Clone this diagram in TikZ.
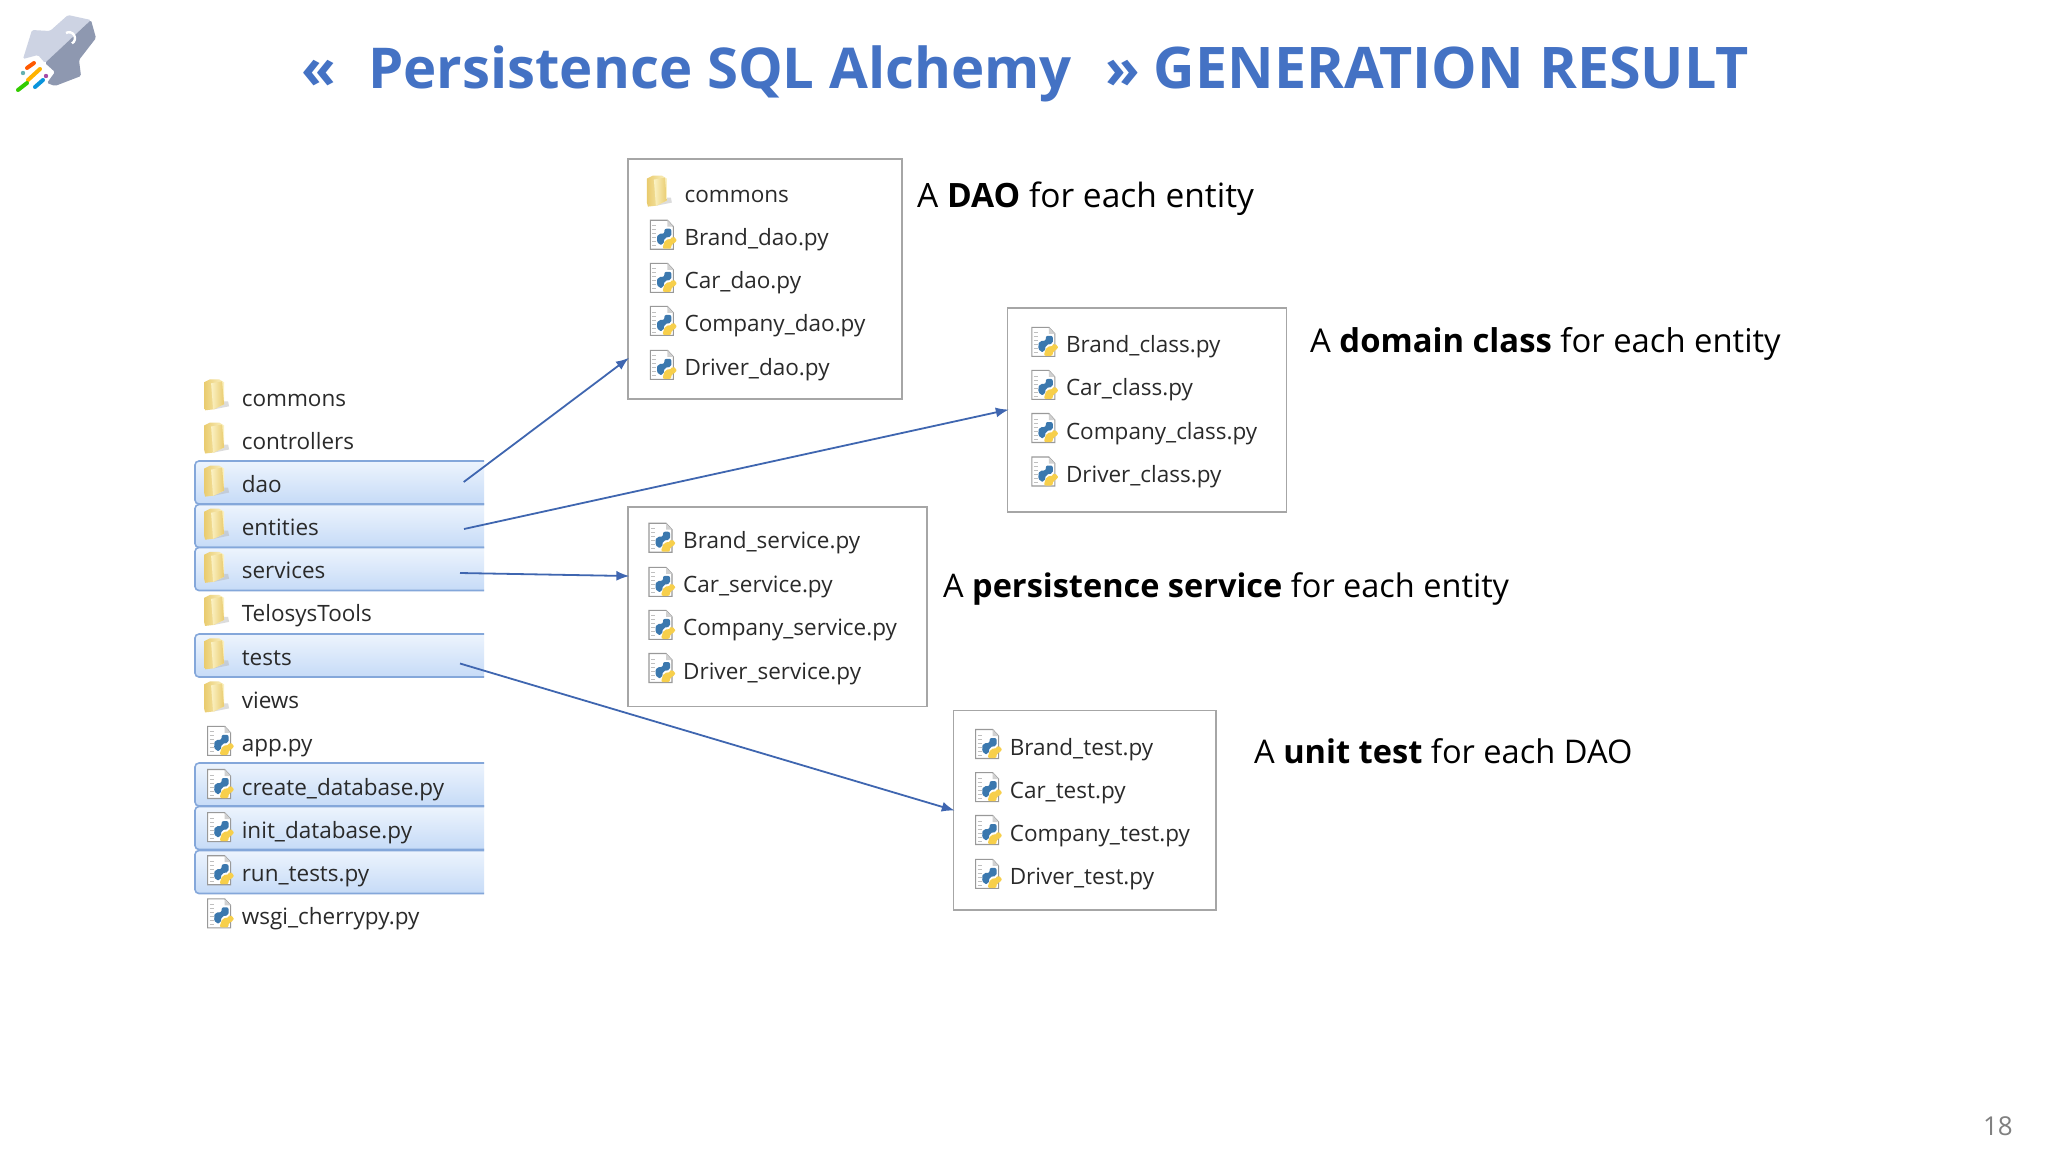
\documentclass[tikz,border=0pt]{standalone}
\usepackage{fontspec}
\setmainfont{Open Sans}
\usetikzlibrary{arrows.meta}
\definecolor{titleblue}{HTML}{4472C4}
\definecolor{rowtext}{HTML}{2A2A2A}
\definecolor{boxline}{HTML}{A6A6A6}
\definecolor{selline}{HTML}{84A7DA}
\definecolor{seltop}{HTML}{EDF4FD}
\definecolor{selbot}{HTML}{C6DBF7}
\definecolor{arrowblue}{HTML}{3F66B0}
\definecolor{foldA}{HTML}{F2D680}
\definecolor{foldB}{HTML}{FBF2C4}
\definecolor{foldC}{HTML}{E9CB6E}
\definecolor{pyblue}{HTML}{3B78AE}
\definecolor{pyyellow}{HTML}{F7CF4B}
\definecolor{logolight}{HTML}{CDD3E3}
\definecolor{logodark}{HTML}{8E98B0}
\tikzset{
  x=1pt,y=-1pt,
  rowlabel/.style={anchor=base west,inner sep=0pt,text=rowtext,font=\fontsize{22.5}{27}\selectfont},
  caption/.style={anchor=base west,inner sep=0pt,text=black},
  titletext/.style={anchor=base west,inner sep=0pt,text=titleblue},
  listbox/.style={draw=boxline,line width=1.3pt,fill=white,inner sep=0pt},
  arrowline/.style={draw=arrowblue,line width=1.8pt,shorten >=-2pt,-{Latex[length=13pt,width=10pt]}},
  folder/.pic={
    \fill[black!30,opacity=.45] (0,14) -- (15,11) -- (14,6) -- (4,6) -- cycle;
    \shade[left color=foldC,right color=foldB] (-10,-13) -- (-4,-16) -- (5,-16) -- (10,-13) -- (10,9) -- (0,14) -- (-9,15) -- (-10,11) -- cycle;
    \shade[left color=foldB,right color=foldC] (-3,-12) -- (8,-14) -- (10,9) -- (-1,14) -- cycle;
  },
  pyfile/.pic={
    \filldraw[fill=white,draw=black!40,line width=1.1pt] (-13,-14.5) -- (4,-14.5) -- (10,-8) -- (10,14.5) -- (-13,14.5) -- cycle;
    \fill[black!18] (4,-14.5) -- (10,-8) -- (4,-8) -- cycle;
    \foreach \yy in {-9,-5,-1,3,7,11}{\draw[black!25,line width=.8pt] (-11,\yy) -- (-7,\yy);}
    \fill[pyblue,rounded corners=2pt] (1,-6) -- (8,-6) -- (8,2) -- (1,3) -- (0,10) -- (-5,10) -- (-7,4) -- (-5,-1) -- (1,-1) -- cycle;
    \fill[pyyellow,rounded corners=2pt] (9,2) -- (13,3) -- (13,8) -- (8,9) -- (8,14) -- (-1,14) -- (0,10) -- (2,5) -- (9,4) -- cycle;
  },
}
\newcommand{\selrow}[1]{%
  \path[top color=seltop,bottom color=selbot,rounded corners=4pt] (484,#1-21.5) -- (195,#1-21.5) -- (195,#1+21.5) -- (484,#1+21.5);
  \draw[selline,line width=1.6pt,rounded corners=4pt] (484,#1-21.5) -- (195,#1-21.5) -- (195,#1+21.5) -- (484,#1+21.5);
}
\begin{document}
\begin{tikzpicture}
\useasboundingbox (0,0) rectangle (2048,1152);
\fill[white] (0,0) rectangle (2048,1152);
% logo
\fill[white] (38,55) -- (55,72) -- (46,84) -- (22,92) -- (16,78) -- cycle;
\fill[logolight,rounded corners=1.5pt] (23,59) -- (32,30) -- (50,31) -- (68,15) -- (91,20) -- (45,63) -- (38,55) -- cycle;
\fill[logodark,rounded corners=1.5pt] (91,20) -- (96,38) -- (79,60) -- (81,76) -- (55,86) -- (47,83) -- (55,72) -- (45,63) -- cycle;
\draw[white,line width=2.4pt] (66,33) arc[start angle=-120,end angle=60,radius=6];
\draw[orange!70!red,line width=4pt,line cap=round] (27,68) -- (34,63);
\draw[orange!60!yellow,line width=4pt,line cap=round] (28,80) -- (40,69);
\draw[cyan!80!blue,line width=4pt,line cap=round] (35,87) -- (43,80);
\draw[green!60!olive,line width=4pt,line cap=round] (18,90) -- (27,83);
\fill[teal!60] (23,73) circle[radius=2.2];
\fill[violet!70] (46,76) circle[radius=2.2];
% title
\node[titletext,font=\fontsize{56.3}{68}\selectfont\bfseries] (tq1) at (301,88) {«};
\node[titletext,font=\fontsize{56.3}{68}\selectfont\bfseries] (tname) at (368,88) {Persistence SQL Alchemy};
\node[titletext,font=\fontsize{56.3}{68}\selectfont\bfseries] (tq2) at (1105,88) {»};
\node[titletext,font=\fontsize{57.4}{68}\selectfont\bfseries] (tgen) at (1153.5,88) {GENERATION RESULT};
% left list selection
\selrow{482.5}
\selrow{526}
\selrow{569}
\selrow{655.5}
\selrow{784.5}
\selrow{828}
\selrow{872}
% left list
\foreach \yy/\name/\txt/\kind/\dx in {
  398.3/r1/commons/folder/-27.5,
  441.5/r2/controllers/folder/-27.5,
  484.6/r3/dao/folder/-27.5,
  527.7/r4/entities/folder/-27.5,
  570.8/r5/services/folder/-27.5,
  613.9/r6/TelosysTools/folder/-27.5,
  657.3/r7/tests/folder/-27.5,
  700.4/r8/views/folder/-27.5,
  743.8/r9/app.py/pyfile/-21,
  787/r10/create\_database.py/pyfile/-21,
  830.1/r11/init\_database.py/pyfile/-21,
  873.2/r12/run\_tests.py/pyfile/-21,
  916.3/r13/wsgi\_cherrypy.py/pyfile/-21}{
  \pic at (241.6+\dx,\yy-3) {\kind};
  \node[rowlabel] (\name) at (241.6,\yy+8) {\txt};
}
% boxes
\node[listbox,minimum width=274pt,minimum height=240pt] (boxdao) at (765,279) {};
\node[listbox,minimum width=279pt,minimum height=204pt] (boxclass) at (1147,410) {};
\node[listbox,minimum width=299pt,minimum height=199.5pt] (boxservice) at (777.5,606.75) {};
\node[listbox,minimum width=262.5pt,minimum height=199.5pt] (boxtest) at (1084.75,810.25) {};
% dao box
\foreach \yy/\name/\txt/\kind/\dx in {
  194.6/d1/commons/folder/-27.5,
  237.7/d2/Brand\_dao.py/pyfile/-21,
  280.8/d3/Car\_dao.py/pyfile/-21,
  323.9/d4/Company\_dao.py/pyfile/-21,
  367.8/d5/Driver\_dao.py/pyfile/-21}{
  \pic at (684.4+\dx,\yy-3) {\kind};
  \node[rowlabel] (\name) at (684.4,\yy+8) {\txt};
}
\foreach \yy/\name/\txt in {
  344.8/c1/Brand\_class.py,
  387.9/c2/Car\_class.py,
  431/c3/Company\_class.py,
  474.5/c4/Driver\_class.py}{
  \pic at (1044.8,\yy-3) {pyfile};
  \node[rowlabel] (\name) at (1065.8,\yy+8) {\txt};
}
\foreach \yy/\name/\txt in {
  540.7/s1/Brand\_service.py,
  584.8/s2/Car\_service.py,
  627.8/s3/Company\_service.py,
  671/s4/Driver\_service.py}{
  \pic at (662,\yy-3) {pyfile};
  \node[rowlabel] (\name) at (683,\yy+8) {\txt};
}
\foreach \yy/\name/\txt in {
  747/t1/Brand\_test.py,
  790.1/t2/Car\_test.py,
  833/t3/Company\_test.py,
  876.9/t4/Driver\_test.py}{
  \pic at (988.6,\yy-3) {pyfile};
  \node[rowlabel] (\name) at (1009.6,\yy+8) {\txt};
}
% captions
\node[caption,font=\fontsize{33.5}{38}\selectfont] (capdao) at (917,207.3) {A \textbf{DAO} for each entity};
\node[caption,font=\fontsize{32.8}{38}\selectfont] (capclass) at (1310,352.3) {A \textbf{domain class} for each entity};
\node[caption,font=\fontsize{32.5}{38}\selectfont] (capservice) at (943,597.3) {A \textbf{persistence service} for each entity};
\node[caption,font=\fontsize{32.6}{38}\selectfont] (captest) at (1254,763.3) {A \textbf{unit test} for each DAO};
% connectors
\coordinate (fromdao) at (463.7,482);
\coordinate (fromentities) at (464,529);
\coordinate (fromservices) at (460,573);
\coordinate (fromtests) at (460,663.5);
\coordinate (todao) at (boxdao.west |- 0,359);
\coordinate (toclass) at (boxclass.west |- 0,410);
\coordinate (toservice) at (boxservice.west |- 0,576);
\coordinate (totest) at (boxtest.west |- 0,810);
\draw[arrowline] (fromdao) -- (todao);
\draw[arrowline] (fromentities) -- (toclass);
\draw[arrowline] (fromservices) -- (toservice);
\draw[arrowline] (fromtests) -- (totest);
% page number
\node[anchor=base east,inner sep=0pt,text=black!50,font=\fontsize{26}{30}\selectfont] (pagenum) at (2013,1135) {18};
\end{tikzpicture}
\end{document}
